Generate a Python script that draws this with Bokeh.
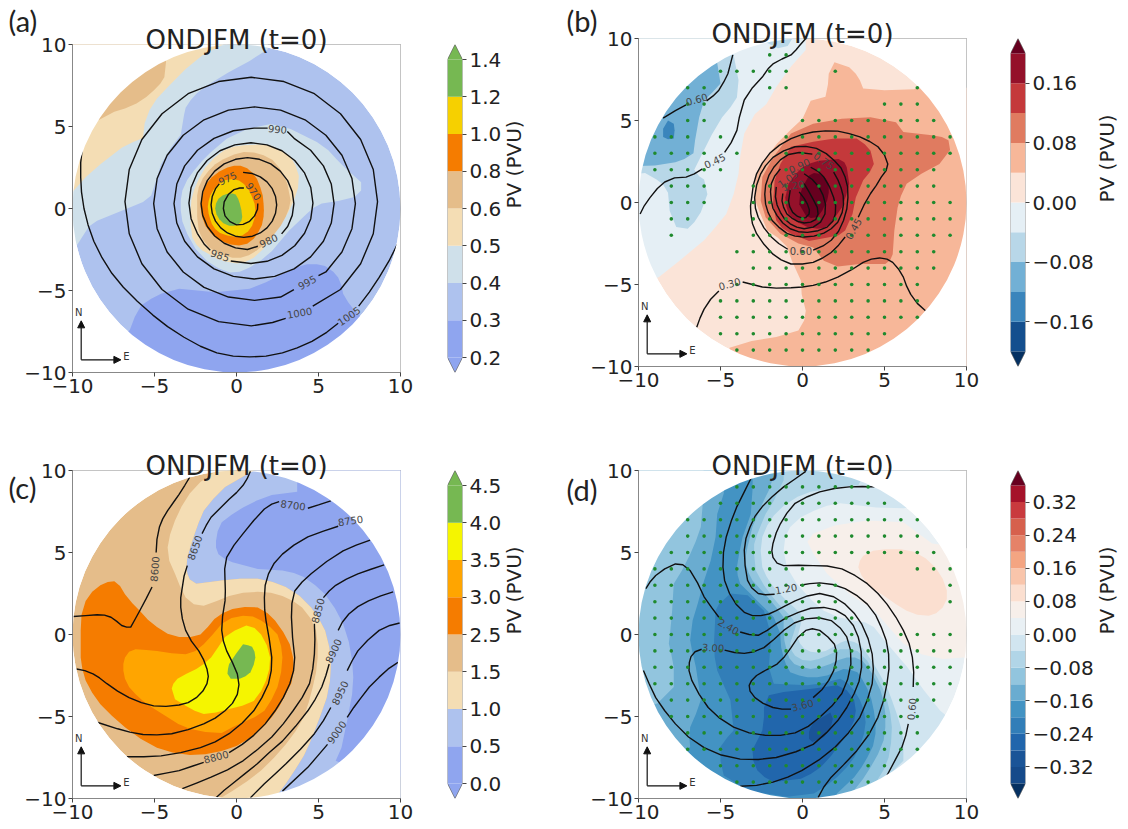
from bokeh.plotting import figure
from bokeh.layouts import row, column
from bokeh.models import Range1d, FixedTicker, Arrow, NormalHead
from bokeh.core.properties import value
from bokeh.embed import file_html
from bokeh.resources import INLINE

# ---------- shared ticks / labels ----------
xy_ticks = [-10, -5, 0, 5, 10]
xy_labels = {-10: "\u221210", -5: "\u22125", 0: "0", 5: "5", 10: "10"}
title_text = "ONDJFM (t=0)"
cb_title = "PV (PVU)"
panel_tags = ["(a)", "(b)", "(c)", "(d)"]

# ---------- panel (a) ----------
a_colors = ["#8FA5EF", "#AEC2EE", "#CFE0EA", "#F4DDB4", "#E5BD8A", "#F57C00", "#F6D000", "#76B852"]
a_tip = ["#8FA5EF", "#76B852"]
a_ticks = ["0.2", "0.3", "0.4", "0.5", "0.6", "0.8", "1.0", "1.2", "1.4"]
a_band = [(1.9,9.7),(0.8,9.0),(-0.5,8.3),(-1.8,7.5),(-2.4,7.05),(-2.8,6.6),(-3.1,6.15),(-3.2,5.7),(-3.4,4.5),(-4.0,3.7),(-4.6,2.7),(-4.9,1.7),(-5.2,0.8),(-5.7,0.4),(-6.4,0.1),(-7.9,-0.5),(-8.5,-0.75),(-9.0,-1.1),(-9.7,-2.2),(-12,-3),(-12,12),(2,12)]
a_low = [(-7.5,-8.5),(-6.5,-7.4),(-6.2,-6.6),(-5.8,-5.9),(-5.2,-5.5),(-4.6,-5.2),(-3.5,-4.9),(-2.4,-5.0),(-1.3,-5.1),(0.8,-4.9),(1.8,-4.5),(2.8,-4.0),(3.6,-3.6),(4.3,-3.4),(4.9,-3.4),(5.4,-3.5),(5.9,-3.85),(6.2,-4.2),(6.4,-4.7),(6.5,-5.2),(6.8,-5.7),(7.1,-6.1),(7.6,-6.6),(9,-12),(-9,-12)]
a_top_tan = [(-0.8,10),(-2,9.4),(-3.1,8.5),(-4.2,7.4),(-4.85,6.7),(-5.3,6),(-5.6,5.2),(-5.7,4.3),(-6.3,4.05),(-7,3.7),(-8.3,2.7),(-9.2,1.9),(-10,1),(-12,1),(-12,12),(-0.8,12)]
a_top_dark = [(-4.3,8.9),(-4.4,8),(-4.65,7.6),(-5.05,7.2),(-5.5,6.8),(-6.1,6.4),(-6.8,6.1),(-7.45,5.9),(-8.4,5.4),(-12,5),(-12,12),(-4.3,12)]
a_mid_blue = [(-3.4,-0.1),(-3.4,0.5),(-3.3,1.1),(-3,1.75),(-2.6,2.3),(-2.1,2.9),(-1.6,3.4),(-0.6,4.25),(0.65,4.85),(2.1,5.15),(3.3,4.85),(4.9,4.05),(5.6,3.55),(6.1,3.0),(6.6,2.5),(7.6,1.6),(7.6,1.1),(7.2,0.7),(6.2,0.45),(5.2,0.3),(4.7,0.05),(4.3,-0.3),(3.2,-1.35),(2.15,-2.6),(1.5,-3.15),(0.8,-3.6),(0.2,-3.85),(-0.4,-3.9),(-1.1,-3.65),(-1.8,-3.2),(-2.5,-2.45),(-3,-1.55),(-3.3,-0.8)]
a_mid_tan = [(-2.8,-0.1),(-2.75,0.5),(-2.6,1.1),(-2.3,1.8),(-1.9,2.5),(-1.35,3.1),(-0.75,3.55),(-0.15,3.78),(0.45,3.85),(1.3,3.9),(2.05,3.85),(2.75,3.55),(3.3,3.15),(3.6,2.6),(3.8,2.0),(3.75,1.25),(3.5,0.5),(3.15,-0.25),(2.7,-0.95),(2.05,-1.95),(1.6,-2.5),(1.05,-3.0),(0.55,-3.25),(0.05,-3.35),(-0.6,-3.25),(-1.2,-3.05),(-2.1,-2.55),(-2.45,-2.2),(-2.7,-1.75),(-2.8,-0.9)]
a_mid_dark = [(-2.4,0.3),(-2.4,0.8),(-2.3,1.3),(-2.05,1.85),(-1.7,2.3),(-1.3,2.7),(-0.8,3.0),(-0.15,3.3),(0.45,3.45),(1.05,3.42),(1.65,3.25),(2.2,2.95),(2.6,2.5),(2.9,2.0),(3.1,1.5),(3.3,0.5),(3.2,0),(3.0,-0.5),(2.7,-1.05),(2.3,-1.55),(1.8,-2.1),(1.25,-2.55),(0.75,-2.85),(0.25,-3.0),(-0.25,-3),(-0.75,-2.85),(-1.25,-2.65),(-1.7,-2.35),(-2.05,-1.9),(-2.3,-1.35),(-2.4,-0.5)]
a_orange = [(-2.2,0.1),(-2.15,0.6),(-2.0,1.1),(-1.8,1.55),(-1.5,1.9),(-1.05,2.25),(-0.55,2.5),(-0.15,2.6),(0.25,2.6),(0.65,2.45),(0.95,2.2),(1.25,1.8),(1.45,1.3),(1.6,0.8),(1.65,0.3),(1.67,-0.1),(1.65,-0.5),(1.55,-1),(1.35,-1.4),(1.05,-1.85),(0.65,-2.15),(0.15,-2.25),(-0.35,-2.2),(-0.8,-2.05),(-1.2,-1.85),(-1.6,-1.45),(-1.9,-1.05),(-2.1,-0.5)]
a_yellow = [(-1.75,0.1),(-1.7,0.45),(-1.6,0.8),(-1.4,1.15),(-1.1,1.5),(-0.7,1.72),(-0.25,1.8),(0.15,1.7),(0.45,1.5),(0.75,1.15),(0.95,0.7),(1.1,0.3),(1.15,-0.1),(1.1,-0.6),(0.95,-1.05),(0.7,-1.4),(0.35,-1.65),(-0.1,-1.72),(-0.55,-1.65),(-1,-1.5),(-1.3,-1.25),(-1.5,-0.95),(-1.6,-0.65),(-1.7,-0.3)]
a_green = [(-1.3,0),(-1.25,0.3),(-1.1,0.6),(-0.85,0.8),(-0.55,0.9),(-0.25,0.92),(-0.05,0.85),(0.1,0.6),(0.2,0.3),(0.3,-0.1),(0.35,-0.5),(0.3,-0.75),(0.15,-0.95),(-0.15,-1.05),(-0.45,-1.05),(-0.8,-0.9),(-1.05,-0.65),(-1.22,-0.35)]
a_fills = [(a_band,a_colors[2]),(a_low,a_colors[0]),(a_top_tan,a_colors[3]),(a_top_dark,a_colors[4]),(a_mid_blue,a_colors[2]),(a_mid_tan,a_colors[3]),(a_mid_dark,a_colors[4]),(a_orange,a_colors[5]),(a_yellow,a_colors[6]),(a_green,a_colors[7])]
a_c970 = [(1.3,.3),(1.28,-.05),(1.1,-.45),(.8,-.78),(.4,-.97),(0,-1.0),(-.4,-.8),(-.7,-.45),(-.8,0),(-.75,.4),(-.5,.85),(-.15,1.15),(.2,1.25),(.45,1.25)]
a_c975 = [(.4,2.2),(.97,2.13),(1.45,1.93),(1.86,1.62),(2.18,1.21),(2.38,.73),(2.45,.22),(2.38,-.29),(2.18,-.77),(1.86,-1.18),(1.45,-1.49),(.97,-1.69),(.45,-1.76),(-.07,-1.69),(-.55,-1.49),(-.96,-1.18),(-1.28,-.77),(-1.48,-.29),(-1.55,.22),(-1.48,.73),(-1.28,1.21),(-1.05,1.5)]
a_c980 = [(1.3,-2.3),(.67,-2.5),(-.06,-2.4),(-.75,-2.12),(-1.33,-1.68),(-1.78,-1.1),(-2.06,-.42),(-2.16,.3),(-2.06,1.02),(-1.78,1.7),(-1.33,2.28),(-.75,2.72),(-.06,3.0),(.67,3.1),(1.4,3.0),(2.09,2.72),(2.67,2.28),(3.12,1.7),(3.4,1.02),(3.5,.3),(3.4,-.42),(3.12,-1.1),(2.75,-1.55)]
a_c985 = [(-.35,-3.2),(.88,-3.35),(1.86,-3.22),(2.77,-2.86),(3.55,-2.27),(4.15,-1.51),(4.53,-.62),(4.66,.33),(4.53,1.28),(4.15,2.17),(3.55,2.93),(2.77,3.52),(1.86,3.88),(.88,4.01),(-.1,3.88),(-1.01,3.52),(-1.79,2.93),(-2.39,2.17),(-2.77,1.28),(-2.9,.33),(-2.77,-.62),(-2.39,-1.51),(-1.95,-2.2),(-1.6,-2.55)]
a_c990 = [(3.1,4.7),(3.51,4.28),(4.52,3.55),(5.3,2.6),(5.78,1.49),(5.95,.3),(5.78,-.89),(5.3,-2.0),(4.52,-2.95),(3.51,-3.68),(2.33,-4.14),(1.07,-4.3),(-.19,-4.14),(-1.37,-3.68),(-2.38,-2.95),(-3.16,-2),(-3.64,-.89),(-3.81,.3),(-3.64,1.49),(-3.16,2.6),(-2.38,3.55),(-1.37,4.28),(-.19,4.74),(1.07,4.9),(1.9,4.9)]
a_c995 = [(5.0,-4.1),(5.45,-3.87),(6.43,-2.65),(7.04,-1.23),(7.25,.3),(7.04,1.83),(6.43,3.25),(5.45,4.47),(4.18,5.41),(2.69,6.0),(1.1,6.2),(-.49,6.0),(-1.98,5.41),(-3.25,4.47),(-4.23,3.25),(-4.84,1.83),(-5.05,.3),(-4.84,-1.23),(-4.23,-2.65),(-3.25,-3.87),(-1.98,-4.81),(-.49,-5.4),(1.1,-5.6),(2.69,-5.4),(3.5,-4.95)]
a_c1000 = [(4.65,-5.95),(6.34,-4.94),(7.57,-3.37),(8.34,-1.54),(8.6,.42),(8.34,2.38),(7.57,4.21),(6.34,5.78),(4.75,7.0),(2.89,7.74),(.9,8.0),(-1.09,7.74),(-2.95,7.0),(-4.54,5.78),(-5.77,4.21),(-6.54,2.38),(-6.8,.42),(-6.54,-1.54),(-5.77,-3.37),(-4.54,-4.94),(-2.95,-6.14),(-1.09,-6.9),(.9,-7.16),(2.2,-6.95),(3.0,-6.7)]
a_c1005a = [(7.45,-5.95),(8.1,-5.1),(8.7,-4.2),(9.3,-3.2),(9.8,-2.2)]
a_c1005b = [(-9.4,3.7),(-9.5,2.8),(-9.5,1.9),(-9.45,1.0),(-9.3,0),(-9.05,-1.0),(-8.7,-2.0),(-8.2,-3.0),(-7.6,-3.95),(-6.9,-4.8),(-6.05,-5.65),(-5.1,-6.5),(-4.2,-7.2),(-3.2,-7.85),(-2.2,-8.4),(-1.2,-8.8),(-.2,-9.0),(.8,-9.05),(1.8,-9.0),(2.8,-8.8),(3.7,-8.5),(4.6,-8.1),(5.5,-7.55),(6.2,-7.0)]
a_lines = [a_c970,a_c975,a_c980,a_c985,a_c990,a_c995,a_c1000,a_c1005a,a_c1005b]
a_labels = [("990",2.5,4.85,-5),("970",1.05,1.05,-55),("975",-0.55,1.85,25),("980",1.95,-1.95,25),("985",-1.0,-2.85,-18),("995",4.3,-4.5,28),("1000",3.85,-6.35,10),("1005",6.85,-6.55,35)]

# ---------- panel (b) ----------
b_colors = ["#144F8E","#3A85BC","#72B0D5","#B8D7E8","#E5EFF5","#FBE4D8","#F7B799","#E07B60","#C4393B","#94112A"]
b_tip = ["#053061","#67001F"]
b_ticks = ["", "\u22120.16", "", "\u22120.08", "", "0.00", "", "0.08", "", "0.16", ""]
b_n0 = [(0.2,9.9),(0.2,9.3),(-0.7,8.3),(-1.6,7.05),(-2.2,6.0),(-2.9,5.4),(-3.55,4.2),(-3.8,2.8),(-3.9,1.75),(-4.2,0.5),(-4.65,-0.7),(-5.3,-1.5),(-6.0,-2.3),(-7.5,-3.55),(-8.75,-4.55),(-12,-6),(-12,12),(0.4,12)]
b_n1 = [(-4.2,9.0),(-3.9,7.45),(-4.0,6.4),(-4.4,5.8),(-4.9,5.2),(-5.55,4.1),(-6.1,3.0),(-6.6,2.0),(-6.3,1.6),(-6.0,1.4),(-5.8,0.5),(-6.2,-0.6),(-6.6,-1.2),(-7.0,-1.6),(-7.7,-1.5),(-8.1,-0.5),(-8.2,0.6),(-8.5,1.1),(-8.9,1.4),(-9.6,1.8),(-12,1.5),(-12,10),(-4.2,10.5)]
b_n1_top = [(-2.2,10.2),(-2.2,9.75),(-1.5,9.4),(-0.9,9.55),(-0.5,10.2)]
b_n2 = [(-5.2,8.5),(-5,7.25),(-5.5,6.7),(-6,6.2),(-6.3,5.2),(-6.55,3.8),(-6.65,3.0),(-7.2,2.65),(-7.75,2.45),(-9,2.25),(-12,2.2),(-12,8),(-5.5,10)]
b_n3 = [(-8.5,4),(-8.2,3.85),(-7.85,3.9),(-7.8,4.4),(-7.85,4.8),(-8.2,5.0),(-8.5,4.5)]
b_p1 = [(1.95,8.55),(2.85,8.25),(3.25,7.85),(3.5,7.45),(3.7,6.95),(5,6.85),(6.8,6.9),(9,8),(12,5),(12,-12),(-4,-12),(-4.45,-8.85),(-3.1,-8.45),(-1.6,-8.2),(-0.25,-7.8),(0.1,-7.2),(0.2,-6.6),(-0.05,-5.6),(-0.1,-4.75),(-0.65,-3.55),(-0.95,-2.7),(-1.5,-2.15),(-2.15,-1.7),(-2.65,-0.5),(-2.95,0.3),(-2.85,1.55),(-2.35,2.55),(-1.55,3.6),(-0.75,4.4),(0,5.1),(0.5,6.2),(1.4,6.45),(1.55,7.2),(1.6,7.85)]
b_p2 = [(0.65,4.8),(2.4,5.1),(4.15,5.2),(5.7,4.9),(6.15,4.3),(7.9,4.1),(8.5,4),(8.9,3.8),(9.0,3.2),(8.35,2.35),(7.25,1.75),(6.35,1.15),(6,0.4),(5.8,-0.3),(5.6,-1.7),(5.5,-3.15),(5.35,-3.5),(5.05,-3.75),(3.5,-3.75),(2.15,-3.9),(1.3,-3.55),(0.65,-2.75),(-0.25,-2.5),(-1.35,-1.9),(-2.25,-0.9),(-2.55,0.1),(-2.45,1.55),(-1.8,2.75),(-0.7,4.2)]
b_p3 = [(-0.7,3.4),(0.65,3.7),(1.95,3.9),(3.3,3.9),(3.8,3.55),(4.15,3.15),(4.35,2.35),(4.1,1.85),(3.7,1.35),(3.25,0.3),(3.05,-0.7),(2.6,-1.7),(2.2,-2),(1.7,-2.1),(0.4,-2.35),(-0.7,-1.9),(-1.25,-1.55),(-1.6,-1.1),(-1.8,-0.1),(-1.7,1.35),(-1.35,2.35)]
b_p4 = [(-1.05,0.3),(-0.85,1.15),(-0.45,1.7),(0,2.15),(0.5,2.4),(1,2.55),(2.2,2.65),(2.55,2.45),(2.7,2.15),(2.85,1.15),(2.65,0.4),(2.4,-0.3),(1.7,-1.3),(1.3,-1.55),(0.9,-1.6),(0.3,-1.5),(-0.3,-1.2),(-0.85,-0.7),(-1,-0.2)]
b_p5 = [(-0.2,-0.1),(-0.15,0.45),(0,0.95),(0.4,1.65),(0.7,1.8),(1,1.75),(1.4,1.5),(1.6,1.15),(1.6,0.6),(1.5,0.1),(1.2,-0.5),(0.9,-0.9),(0.5,-0.95),(0.2,-0.8)]
b_fills = [(b_n0,b_colors[4]),(b_n1,b_colors[3]),(b_n1_top,b_colors[3]),(b_n2,b_colors[2]),(b_n3,b_colors[1]),(b_p1,b_colors[6]),(b_p2,b_colors[7]),(b_p3,b_colors[8]),(b_p4,b_colors[9]),(b_p5,b_tip[1])]
b_c30a = [(-6.45,-7.6),(-6.25,-7.05),(-6,-6.5),(-5.6,-5.9),(-5.1,-5.4)]
b_c30b = [(-3.65,-4.85),(-3.05,-5),(-2.45,-5.15),(-1.6,-5.22),(-.7,-5.2),(0,-5.15),(.65,-5.05),(1.4,-4.85),(2.15,-4.55),(3,-4.1),(3.7,-3.65),(4.2,-3.45),(4.7,-3.38),(5.15,-3.45),(5.5,-3.65),(5.85,-4.05),(6.15,-4.55),(6.35,-5.1),(6.6,-5.6),(7,-6.15),(7.5,-6.6)]
b_c45a = [(-9.9,-.7),(-9.65,-.2),(-9.3,.3),(-8.85,.85),(-8.4,1.25),(-7.8,1.5),(-7.1,1.55),(-6.6,1.75),(-6.1,2.05)]
b_c45b = [(-4.75,3.05),(-4.35,3.65),(-4,4.4),(-3.85,5.2),(-3.55,6.25),(-3.05,7),(-2.45,7.65),(-2.1,8.15),(-1.8,8.45),(-1.25,8.75),(-.7,9),(-.4,9.3),(-.15,9.6),(.2,10)]
b_c60a = [(-8.5,5.15),(-7.75,5.6),(-7.1,5.95)]
b_c60b = [(-5.85,6.2),(-5.45,6.5),(-5.1,6.85),(-4.8,7.35),(-4.55,7.85),(-4.25,9)]
b_c45c = [(2.6,-2.1),(2.2,-2.6),(1.75,-3.05),(1.2,-3.4),(.65,-3.65),(0,-3.75),(-.7,-3.75),(-1.3,-3.5),(-1.8,-3.15),(-2.35,-2.55),(-2.8,-1.9),(-3.05,-1.3),(-3.15,-.7),(-3.17,-.2),(-3.1,.3),(-3,1.05),(-2.8,1.75),(-2.45,2.4),(-2,3),(-1.4,3.5),(-.7,3.9),(0,4.15),(.65,4.3),(1.4,4.37),(2.15,4.35),(2.85,4.2),(3.5,4),(4.1,3.72),(4.6,3.4),(5,2.9),(5.2,2.35),(5.1,1.95),(4.8,1.55),(4.5,1.05),(4.15,.55),(3.75,-.15),(3.4,-.9)]
b_c60c = [(0.65,-2.9),(1.25,-2.65),(1.75,-2.3),(2.2,-1.75),(2.5,-1.1),(2.7,-.4),(2.77,.3),(2.75,.95),(2.6,1.55),(2.35,2.1),(1.95,2.55),(1.45,2.98),(.85,3.3),(.2,3.42),(-.45,3.4),(-1.15,3.15),(-1.8,2.75),(-2.25,2.25),(-2.55,1.75),(-2.8,1.05),(-2.92,.3),(-2.87,-.35),(-2.7,-.9),(-2.35,-1.55),(-1.9,-2.1),(-1.45,-2.5),(-.9,-2.85)]
b_c75 = [(1.9,1.85),(2.15,1.4),(2.35,.9),(2.48,.4),(2.5,-.1),(2.42,-.6),(2.15,-1.2),(1.75,-1.6),(1.3,-1.87),(.7,-2.05),(.1,-2.1),(-.45,-2.05),(-.95,-1.88),(-1.45,-1.5),(-1.85,-1.1),(-2.1,-.6),(-2.25,-.1),(-2.3,.5),(-2.25,1.05),(-2.05,1.65),(-1.75,2.15),(-1.35,2.6),(-.85,2.93),(-.2,3.05),(.6,2.95)]
b_c90 = [(.5,2.15),(.95,1.9),(1.3,1.55),(1.65,.95),(1.9,.3),(2.02,-.2),(2,-.7),(1.85,-1.15),(1.5,-1.5),(.95,-1.72),(.3,-1.82),(-.25,-1.78),(-.75,-1.6),(-1.2,-1.25),(-1.55,-.8),(-1.8,-.35),(-1.9,.1),(-1.95,.65),(-1.9,1.15),(-1.7,1.6),(-1.35,2.05)]
b_c105 = [(.1,1.75),(.6,1.4),(1,.95),(1.25,.45),(1.4,-.1),(1.37,-.7),(1.1,-1.2),(.65,-1.5),(.1,-1.6),(-.35,-1.5),(-.75,-1.3),(-1.1,-1),(-1.35,-.6),(-1.55,-.15),(-1.65,.35),(-1.6,.95)]
b_c120 = [(.1,1.15),(.4,.65),(.7,.1),(.9,-.3),(.95,-.7),(.8,-1.05),(.5,-1.2),(.1,-1.25),(-.3,-1.15),(-.65,-.95),(-.95,-.7),(-1.15,-.3),(-1.25,.1),(-1.2,.55)]
b_c135 = [(-.2,.65),(.1,.25),(.3,-.1),(.42,-.45),(.4,-.7),(.2,-.92),(0,-.95),(-.3,-.85),(-.6,-.6),(-.78,-.25),(-.85,.1),(-.75,.75)]
b_lines = [b_c30a,b_c30b,b_c45a,b_c45b,b_c60a,b_c60b,b_c45c,b_c60c,b_c75,b_c90,b_c105,b_c120,b_c135]
b_labels = [("0.60",-6.45,6.3,15),("0.45",-5.35,2.55,25),("0.75",1.3,2.55,-35),("0.90",-0.2,2.25,25),("1.05",-0.9,1.45,35),("1.20",-0.55,1.05,10),("0.60",-0.1,-2.95,0),("0.45",3.1,-1.6,60),("0.30",-4.45,-4.95,15)]
b_dots = [(9,-2,-1),(8,-5,-1),(8,2,2),(7,-7,-6),(7,-2,-1),(7,7,7),(6,-7,-6),(6,5,7),(5,-7,-6),(5,0,8),(4,-9,-7),(4,-5,-5),(4,-1,9),(3,-9,-6),(3,-4,-4),(3,-1,9),(2,-9,-5),(2,-1,8),(1,-8,-6),(1,-3,8),(0,-8,-6),(0,-3,9),(-1,-8,-7),(-1,-3,9),(-2,-8,-8),(-2,-3,9),(-3,-4,8),(-4,-3,8),(-5,-4,7),(-6,-5,7),(-7,-5,7),(-8,-5,5),(-9,-4,4)]

# ---------- panel (c) ----------
c_colors = ["#8FA5EF","#AEC2EE","#F4DDB4","#E5BD8A","#F57C00","#FFA500","#F5F500","#76B852"]
c_tip = ["#8FA5EF","#76B852"]
c_ticks = ["0.0","0.5","1.0","1.5","2.5","3.0","3.5","4.0","4.5"]
c_left_edge = [(-1.35,10.5),(-1.35,9.9),(-2.2,9.3),(-2.85,8.6),(-3.35,7.8),(-3.75,6.95),(-4.05,6.1),(-4.2,5.3),(-4.1,4.5),(-3.75,3.7),(-3.45,2.95),(-3.1,2.25),(-2.6,1.85),(-2,1.75),(-1.2,2.05),(-0.45,2.35),(0.4,2.55),(1.3,2.6),(2.1,2.55),(2.8,2.35),(3.45,2.05),(4,1.65),(4.5,1),(4.85,0.25),(4.95,-0.6),(4.95,-1.4),(4.85,-2.3),(4.65,-3.2),(4.4,-4.15),(4.1,-5.05),(3.6,-5.9),(3,-6.7),(2.3,-7.5),(1.5,-8.3),(0.65,-8.95),(-0.25,-9.55),(-1.35,-10.2)]
c_right_edge = [(2.15,-10.2),(3,-9.1),(3.6,-8.2),(4.1,-7.4),(4.45,-6.65),(4.75,-5.9),(5.15,-4.85),(5.5,-3.85),(5.7,-2.8),(5.75,-1.8),(5.65,-0.75),(5.4,0.25),(5,1),(4.55,1.65),(3.85,2.35),(3,2.9),(2.2,3.2),(1.3,3.4),(0.2,3.4),(-0.9,3.3),(-2.45,3.1),(-2.85,3.35),(-3,3.7),(-3.05,4.2),(-3,4.7),(-2.8,5.4),(-2.55,6.15),(-2.3,6.85),(-2,7.55),(-1.4,8.3),(-0.7,9),(0.85,9.9),(1.5,10.2)]
c_blue = c_right_edge + [(1.5,12),(12,12),(12,-12),(2.15,-12)]
c_tan = c_left_edge + c_right_edge
c_deep = [(3.7,8.7),(2.15,8.5),(1.2,8.15),(0.4,7.75),(-0.3,7.3),(-0.9,6.85),(-1.15,6.3),(-1.25,5.7),(-1.25,5.3),(-1.1,4.9),(-0.7,4.6),(-0.25,4.4),(0.5,4.2),(1.3,4),(2.8,3.9),(3.5,3.75),(4.1,3.5),(4.8,3),(5.4,2.45),(6,1.6),(6.5,0.65),(6.85,-0.45),(7.05,-1.6),(7.12,-2.6),(7.05,-3.65),(6.75,-5.25),(6.4,-6.9),(6.05,-7.7),(9,-9),(12,-8),(12,12),(3.7,12)]
c_or1 = [(-9.5,0.25),(-9.45,1.2),(-9.2,2.05),(-8.8,2.6),(-8.3,3),(-7.85,3.2),(-7.45,3.25),(-7.1,2.95),(-6.8,2.45),(-6.35,1.9),(-5.9,1.45),(-5.4,0.9),(-4.85,0.45),(-4.2,0.05),(-3.5,-0.15),(-2.8,-0.15),(-2.2,0),(-1.75,0.45),(-1.35,0.95),(-0.85,1.3),(-0.25,1.55),(0.5,1.68),(1.3,1.65),(1.9,1.3),(2.35,0.85),(2.85,0.15),(3.25,-0.6),(3.45,-1.4),(3.5,-2.2),(3.35,-2.95),(3,-3.65),(2.6,-4.4),(2.15,-5.05),(1.55,-5.7),(0.85,-6.3),(0,-6.8),(-0.9,-7.1),(-1.9,-7.3),(-2.85,-7.35),(-3.9,-7.2),(-4.85,-6.9),(-5.85,-6.35),(-6.8,-5.65),(-7.6,-4.95),(-8.3,-4.25),(-8.8,-3.55),(-9.2,-2.8),(-9.4,-2.1),(-9.5,-1.4)]
c_or2 = [(-6.9,-2.2),(-6.9,-1.8),(-6.8,-1.4),(-6.55,-1.05),(-6.15,-0.9),(-5.5,-0.95),(-4.85,-1),(-3.95,-1.15),(-3.1,-1.2),(-2.5,-1),(-2,-0.6),(-1.45,0),(-0.9,0.65),(-0.3,1),(0.4,1.15),(1,1.1),(1.5,0.85),(2.05,0.45),(2.5,0),(2.72,-0.7),(2.8,-1.4),(2.72,-2.3),(2.5,-3.2),(2.15,-3.95),(1.7,-4.65),(1.1,-5.05),(0.4,-5.35),(-0.25,-5.65),(-0.9,-6),(-1.9,-5.95),(-2.85,-5.75),(-3.55,-5.45),(-4.2,-5.05),(-5,-4.55),(-5.7,-4.05),(-6.15,-3.65),(-6.55,-3.2),(-6.8,-2.7)]
c_yel = [(-3.95,-3.3),(-3.85,-3),(-3.6,-2.7),(-3.05,-2.4),(-2.45,-2.1),(-2,-1.8),(-1.55,-1.4),(-1.1,-0.75),(-0.7,-0.15),(-0.1,0.25),(0.6,0.55),(1.1,0.4),(1.5,0),(1.85,-0.65),(2.05,-1.4),(2,-2.1),(1.8,-2.8),(1.5,-3.45),(1.05,-4.05),(0.35,-4.35),(-0.45,-4.55),(-1.25,-4.75),(-2,-4.85),(-2.55,-4.65),(-3.1,-4.35),(-3.75,-3.95)]
c_grn = [(-0.55,-2.4),(-0.52,-2.1),(-0.45,-1.8),(-0.05,-1.2),(0.4,-0.6),(0.7,-0.65),(0.95,-0.75),(1.1,-1.05),(1.15,-1.4),(1.05,-1.85),(0.85,-2.3),(0.55,-2.55),(0.2,-2.7),(-0.35,-2.7)]
c_fills = [(c_blue,c_colors[1]),(c_tan,c_colors[2]),(c_deep,c_colors[0]),(c_or1,c_colors[4]),(c_or2,c_colors[5]),(c_yel,c_colors[6]),(c_grn,c_colors[7])]
c_8600a = [(-9.95,1.1),(-9.2,1.15),(-8.5,1.2),(-8.05,1.18),(-7.65,1.05),(-7.3,.8),(-7,.55),(-6.7,.45),(-6.45,.45),(-6.2,.9),(-5.9,1.45),(-5.5,2.2),(-5.15,2.9)]
c_8600b = [(-4.9,5),(-4.85,5.8),(-4.7,6.55),(-4.5,7.05),(-4.2,7.55),(-3.85,8.05),(-3.5,8.55),(-3.15,9.1),(-2.85,9.6)]
c_8650a = [(.85,9.95),(.65,9.5),(.4,9.1),(0,8.65),(-.45,8.25),(-1,7.7),(-1.55,7.15),(-1.85,6.65),(-2.1,6.15)]
c_8650b = [(-3,4.2),(-3.2,3.55),(-3.3,2.9),(-3.4,2.25),(-3.4,1.65),(-3.3,.95),(-3.1,.25),(-2.75,-.4),(-2.3,-1),(-2,-1.55),(-1.8,-2.1),(-1.72,-2.55),(-1.8,-3),(-2.05,-3.45),(-2.45,-3.85),(-2.95,-4.15),(-3.5,-4.3),(-4.3,-4.38),(-5.05,-4.35),(-5.8,-4.15),(-6.55,-3.85),(-7.25,-3.45),(-7.9,-3),(-8.35,-2.65),(-8.75,-2.4),(-9.25,-2.2),(-9.75,-2.1)]
c_8700a = [(5.75,8.15),(5,7.9),(4.35,7.7)]
c_8700b = [(2.6,8.1),(2.15,7.95),(1.7,7.65),(1.05,6.95),(.4,6.15),(-.15,5.45),(-.6,4.7),(-.72,4),(-.7,3.3),(-.68,2.65),(-.7,2.05),(-.85,1.1),(-.9,.25),(-.8,-.4),(-.6,-1),(-.25,-1.7),(.05,-2.4),(.15,-3.05),(.05,-3.65),(-.25,-4.2),(-.7,-4.65),(-1.3,-5.1),(-2,-5.45),(-2.95,-5.8),(-3.95,-6.05),(-4.85,-6.12),(-5.7,-6.1),(-6.5,-5.95),(-7.25,-5.75),(-8.5,-5.35)]
c_8750 = [(6.2,6.6),(5.3,6.3),(4.35,5.95),(3.5,5.45),(2.8,4.9),(2.3,4.35),(1.95,3.7),(1.75,3),(1.7,2.25),(1.72,1.5),(1.8,.85),(2,-.3),(2.15,-1.4),(2.12,-2.2),(1.95,-3),(1.55,-3.85),(1.05,-4.65),(.35,-5.4),(-.45,-6.05),(-1.3,-6.55),(-2.2,-6.9),(-3.4,-7.2),(-4.6,-7.4),(-5.65,-7.45),(-6.7,-7.45)]
c_8800a = [(8.15,5.75),(7.3,5.45),(6.5,5.1),(5.5,4.45),(4.55,3.7),(4,3.2),(3.55,2.65),(3.38,1.9),(3.35,1.05),(3.42,-.2),(3.55,-1.4),(3.48,-2.2),(3.25,-3),(2.85,-3.85),(2.35,-4.65),(1.75,-5.45),(1.05,-6.15),(.35,-6.7),(-.45,-7.2)]
c_8800b = [(-2,-7.8),(-2.75,-8.05),(-3.5,-8.3),(-4.3,-8.45),(-5.05,-8.6)]
c_8850a = [(9,4.25),(8.2,3.98),(7.4,3.7),(6.7,3.38),(6.05,3),(5.65,2.65),(5.3,2.25)]
c_8850b = [(4.75,.65),(4.78,-.3),(4.75,-1.2),(4.65,-2.1),(4.45,-3),(4,-3.85),(3.45,-4.65),(2.85,-5.45),(2.15,-6.25),(1.3,-7),(.4,-7.7),(-.55,-8.25),(-1.55,-8.7),(-2.4,-9.05),(-3.3,-9.4)]
c_8900a = [(9.55,2.6),(8.8,2.35),(8.05,2.05),(7.4,1.7),(6.85,1.25),(6.45,.75),(6.2,.25)]
c_8900b = [(5.65,-1.8),(5.45,-2.5),(5.2,-3.2),(4.8,-3.95),(4.35,-4.65),(3.6,-5.6),(2.8,-6.5),(2,-7.2),(1.25,-7.9),(.5,-8.5),(-.25,-9.1),(-.75,-9.5),(-1.25,-9.95)]
c_8950a = [(9.95,.7),(9.35,.55),(8.7,.25),(8,-.35),(7.4,-1),(7.05,-1.6),(6.75,-2.2)]
c_8950b = [(5.75,-4.45),(5.3,-5.25),(4.75,-6.05),(3.9,-7),(3,-7.9),(2.35,-8.5),(1.7,-9.1),(.85,-9.95)]
c_9000a = [(9.85,-1.7),(9.25,-2.1),(8.7,-2.6),(8.1,-3.2),(7.6,-3.85),(7.15,-4.45),(6.75,-5.05)]
c_9000b = [(5.55,-6.7),(4.95,-7.4),(4.35,-8.1),(2.8,-9.55)]
c_lines = [c_8600a,c_8600b,c_8650a,c_8650b,c_8700a,c_8700b,c_8750,c_8800a,c_8800b,c_8850a,c_8850b,c_8900a,c_8900b,c_8950a,c_8950b,c_9000a,c_9000b]
c_labels = [("8600",-5,4,85),("8650",-2.55,5.3,70),("8700",3.45,7.9,-8),("8750",6.95,6.95,8),("8800",-1.25,-7.45,15),("8850",4.95,1.45,75),("8900",5.9,-1,65),("8950",6.3,-3.55,65),("9000",6.1,-5.95,55)]

# ---------- panel (d) ----------
d_colors = ["#154A8A","#1A5497","#2166AC","#327EB8","#4393C3","#6AACD0","#92C5DE","#B1D5E7","#D1E5F0","#E9F0F4","#F7EFEA","#FBDFD0","#F9C5AB","#F4A582","#E58268","#D6604D","#C93A3E","#A5122A"]
d_tip = ["#053061","#67001F"]
d_ticks = ["","\u22120.32","","\u22120.24","","\u22120.16","","\u22120.08","","0.00","","0.08","","0.16","","0.24","","0.32",""]
d_p0 = [(0.65,6.15),(1.95,6.65),(3.95,6.95),(6.15,6.85),(7.9,5.55),(12,5),(12,-2),(9.8,-1.4),(8.55,-1.5),(7.25,-1.2),(6.15,-0.55),(5.25,0.45),(4.4,1.45),(2.85,2.5),(1.5,3.7),(0.65,4.95),(0.3,5.65)]
d_p1 = [(3.4,4.1),(3.5,4.5),(3.7,4.8),(4.3,5.1),(5.05,5.2),(6,5.2),(6.8,5.05),(7.5,4.65),(8.1,4.1),(8.55,3.4),(8.8,2.7),(8.8,2.15),(8.55,1.65),(8.15,1.3),(7.7,1.15),(7,1.2),(6.35,1.45),(5.7,1.85),(5.05,2.3),(4.45,2.7),(3.95,3.1),(3.6,3.6)]
d_m1 = [(9,12),(9,8),(6.15,7.7),(4.5,7.75),(2.3,8),(1.5,7.85),(.7,7.55),(-.1,7.15),(-.75,6.55),(-1.05,5.95),(-1.15,5.1),(-.95,4.1),(-.35,3.1),(.5,2.15),(1.3,1.45),(2.2,1.05),(3.1,.85),(3.8,.75),(4.35,.45),(4.95,-.3),(5.55,-1),(6.4,-2),(7.4,-3.4),(8.4,-4.65),(9.4,-5.45),(12,-7),(12,-12),(-12,-12),(-12,12)]
d_m2 = [(5,12),(3.4,9.1),(2.3,9),(.5,8.7),(-.3,8.4),(-1.15,7.85),(-1.75,7.25),(-2.15,6.65),(-2.45,5.95),(-2.55,5.1),(-2.45,4.1),(-2.2,3.55),(-1.85,3),(-1.4,2.5),(-.95,2.05),(-.5,1.65),(-.1,1.25),(-.1,.65),(-.3,-.15),(-.15,-.55),(.1,-.85),(.5,-1.05),(.9,-1.1),(1.4,-1),(1.9,-.75),(2.3,-.5),(2.7,-.35),(3.15,-.45),(3.55,-.65),(3.95,-1.2),(4.35,-1.8),(4.75,-2.5),(5.15,-3.2),(5.45,-4),(5.75,-4.85),(6,-5.65),(6.15,-6.45),(6.15,-7.1),(6.15,-7.7),(5.55,-8.3),(6,-12),(-12,-12),(-12,12)]
d_m3 = [(-1.15,11),(-1.15,9.4),(-1.45,8.8),(-1.75,8.15),(-2.25,7.35),(-2.5,6.75),(-2.75,6.15),(-2.95,5.5),(-2.95,4.9),(-2.85,3.9),(-2.35,3),(-1.9,2.4),(-1.45,1.85),(-1,1.4),(-.6,.95),(-.4,.55),(-.55,.05),(-.75,-.55),(-.65,-1),(-.45,-1.3),(0,-1.55),(.5,-1.6),(1,-1.5),(1.5,-1.3),(1.9,-1.1),(2.3,-.9),(2.85,-.9),(3.35,-1),(3.95,-1.6),(4.25,-2.1),(4.55,-2.6),(4.9,-3.3),(5.15,-4),(5.35,-4.8),(5.45,-5.65),(5.4,-6.6),(5.25,-7.5),(4.95,-8.25),(4.55,-8.9),(4.15,-9.6),(4.5,-12),(-12,-12),(-12,12),(-1.15,12)]
d_m4 = [(-6,11),(-6.1,7.75),(-6.2,6.55),(-6.5,5.7),(-6.85,4.9),(-7.35,3.9),(-7.85,3.1),(-7.95,1.45),(-8.05,.35),(-8.15,-.55),(-8,-1.2),(-7.85,-2),(-7.85,-3.2),(-8.85,-4.2),(-12,-5),(-12,-12),(4,-12),(3.15,-9.5),(3.7,-8.8),(4.15,-8.1),(4.6,-7.3),(4.95,-6.45),(5.05,-5.65),(5.05,-4.85),(4.95,-4.1),(4.75,-3.4),(4.5,-2.9),(4.25,-2.4),(3.95,-1.95),(3.65,-1.6),(3.2,-1.4),(2.7,-1.4),(2.2,-1.55),(1.7,-1.8),(1.1,-2),(.5,-2.1),(0,-2),(-.5,-1.8),(-.8,-1.45),(-.95,-1),(-1.1,-.4),(-1.15,.25),(-1.15,1.05),(-1.6,1.65),(-2.05,2.2),(-2.55,2.75),(-3.05,3.3),(-3.3,3.8),(-3.45,4.3),(-3.45,4.8),(-3.35,5.35),(-3.2,5.95),(-3.05,6.55),(-2.8,7.15),(-2.55,7.75),(-2.3,8.3),(-2.05,8.8),(-1.75,9.7),(-1.75,11)]
d_m5 = [(-4.6,11),(-4.8,8.6),(-5.2,7.35),(-5.3,5.95),(-5.6,4.5),(-6,3.3),(-6.4,1.85),(-6.7,.85),(-6.85,-.35),(-6.75,-.9),(-6.5,-2),(-6.35,-3),(-6.2,-4),(-6.5,-4.85),(-6.85,-5.65),(-6.9,-6.3),(-6.85,-6.85),(-8,-8),(-8,-12),(2,-12),(2.1,-9.7),(3.15,-8.7),(3.6,-8.1),(3.95,-7.5),(4.3,-6.8),(4.45,-6.05),(4.45,-5.35),(4.35,-4.65),(4.2,-3.95),(3.95,-3.3),(3.65,-2.75),(3.35,-2.3),(2.9,-2.15),(2.5,-2.1),(2,-2.3),(1.5,-2.5),(.9,-2.6),(.3,-2.6),(-.2,-2.5),(-.75,-2.3),(-1,-1.85),(-1.15,-1.4),(-1.3,-.8),(-1.35,-.15),(-1.35,.05),(-1.55,.55),(-1.75,1.05),(-2.25,1.55),(-2.75,2.05),(-3.3,2.6),(-3.8,3.1),(-3.95,3.6),(-4,4.1),(-3.85,5),(-3.65,5.95),(-3.4,6.65),(-3.15,7.35),(-3.1,8.1),(-3.05,8.8),(-3,11)]
d_m6 = [(-5.1,1.85),(-4.4,2.5),(-3.35,2.4),(-2.35,1.45),(-2.05,.45),(-1.95,-.55),(-2.05,-2),(-1.75,-3),(-.7,-3.05),(.3,-3.1),(1.3,-2.95),(2.3,-2.7),(2.75,-2.95),(3.15,-3.4),(3.5,-4),(3.75,-4.65),(3.85,-5.35),(3.75,-6.05),(3.5,-6.8),(3.15,-7.5),(2.7,-8.1),(2.1,-8.7),(1.4,-9.25),(.7,-9.7),(-.95,-9.9),(-2.95,-9.6),(-3.9,-9.15),(-4.8,-8.6),(-5,-7.7),(-5,-6.85),(-4.6,-6.3),(-4.2,-5.85),(-4.3,-4.9),(-4.4,-4),(-4.8,-3.1),(-5.2,-2.2),(-5.35,-1.4),(-5.4,-.55),(-5.35,.4),(-5.3,1.45)]
d_m7 = [(-2.35,-4.45),(-2.05,-3.7),(-1.15,-3.5),(-.2,-3.4),(.7,-3.3),(2.1,-3.1),(2.7,-3.4),(3.15,-4),(3.25,-4.65),(3.15,-5.25),(2.8,-5.95),(2.3,-6.65),(1.75,-7.4),(1.1,-8.1),(.5,-8.5),(-.1,-8.8),(-1.75,-9),(-2.3,-8.7),(-2.75,-8.3),(-3,-7.7),(-3.05,-7.05),(-2.75,-6.45),(-2.45,-5.85),(-2.35,-5.05)]
d_m8 = [(.4,-5.95),(.5,-5.65),(.7,-5.35),(1.2,-5.05),(1.7,-4.75),(1.85,-5.15),(1.7,-5.75),(1.3,-6.25),(.6,-6.55),(.4,-6.35)]
d_fills = [(d_p0,d_colors[10]),(d_p1,d_colors[11]),(d_m1,d_colors[8]),(d_m2,d_colors[7]),(d_m3,d_colors[6]),(d_m4,d_colors[5]),(d_m5,d_colors[4]),(d_m6,d_colors[3]),(d_m7,d_colors[2]),(d_m8,d_colors[1])]
d_c060a = [(5.15,-8.6),(5.6,-7.75),(6.05,-6.9),(6.3,-6.15),(6.45,-5.45)]
d_c060b = [(6.75,-3.2),(6.78,-2.3),(6.7,-1.4),(6.5,-.55),(6.15,.25),(5.7,1.05),(5.15,1.85),(4.6,2.5),(3.95,3.1),(3.2,3.6),(2.4,4),(1.5,4.18),(.65,4.2),(-.25,4.22),(-1.15,4.2),(-1.55,4.35),(-1.8,4.7),(-1.87,5.1),(-1.8,5.55),(-1.6,6.2),(-1.35,6.75),(-.95,7.4),(-.45,8),(.3,8.4),(1.05,8.7),(1.95,8.9),(2.85,9),(3.65,9.02),(4.4,9)]
d_c120a = [(-.15,3),(.45,3.1),(1.05,3.15),(1.85,3.05),(2.6,2.8),(3.35,2.35),(3.95,1.85),(4.45,1.2),(4.8,.45),(5.1,-.35),(5.25,-1.2),(5.27,-2.1),(5.15,-3),(4.95,-4),(4.6,-5.05),(4.05,-6.1),(3.3,-7.1),(2.5,-7.95),(1.75,-8.7),(1.3,-9.3),(.95,-9.95)]
d_c120b = [(-1.7,2.45),(-2.25,2.42),(-2.7,2.5),(-3.1,2.85),(-3.35,3.3),(-3.5,4.2),(-3.55,5.15),(-3.45,5.85),(-3.2,6.55),(-2.9,7.2),(-2.45,7.8),(-1.85,8.4),(-1.15,9),(-.5,9.45),(.2,9.95)]
d_c180 = [(-3.1,9.6),(-3.55,8.7),(-4,7.8),(-4.35,6.9),(-4.65,5.95),(-4.82,5),(-4.85,4.1),(-4.75,3.3),(-4.45,2.5),(-4.05,1.85),(-3.55,1.35),(-3.05,1.15),(-2.55,1.15),(-2.05,1.25),(-1.6,1.45),(-1.05,1.75),(-.45,2.05),(.3,2.35),(1.05,2.5),(1.9,2.3),(2.6,1.85),(3.15,1.3),(3.6,.65),(4,-.25),(4.25,-1.2),(4.32,-2.1),(4.25,-3),(3.95,-4),(3.5,-5.05),(2.8,-6),(1.95,-6.9),(1,-7.65),(-.05,-8.3),(-.9,-8.7),(-1.8,-9),(-2.8,-9.2),(-3.8,-9.25)]
d_c240a = [(-9.55,2.8),(-9.3,3.2),(-8.95,3.6),(-8.4,4),(-7.75,4.3),(-7.3,4.25),(-6.85,3.9),(-6.4,3.15),(-6,2.3),(-5.55,1.65),(-5.1,1.05)]
d_c240b = [(-3.8,.15),(-3.25,0),(-2.7,-.05),(-2.15,.25),(-1.6,.65),(-.95,1.05),(-.25,1.35),(.5,1.6),(1.3,1.65),(2,1.5),(2.6,1.15),(3.1,.55),(3.4,-.15),(3.58,-1.05),(3.6,-2),(3.45,-2.85),(3.15,-3.6),(2.7,-4.45),(2.15,-5.25),(1.45,-6),(.65,-6.7),(-.4,-7.15),(-1.6,-7.5),(-2.7,-7.62),(-3.8,-7.6),(-4.95,-7.35),(-6,-6.9),(-6.95,-6.25),(-7.75,-5.45),(-8.4,-4.65),(-8.95,-3.85),(-9.35,-3),(-9.7,-2.2)]
d_c300 = [(-4.75,-.95),(-4.15,-1.1),(-3.55,-1.15),(-2.95,-1.05),(-2.35,-.8),(-1.75,-.3),(-1.15,.25),(-.5,.7),(.2,.95),(1,1.02),(1.75,.85),(2.3,.4),(2.7,-.15),(2.93,-.95),(2.95,-1.8),(2.75,-2.75),(2.4,-3.6),(1.8,-4.35),(1.05,-5.05),(.35,-5.6),(-.45,-6),(-1.35,-6.15),(-2.25,-6.15),(-3.25,-6),(-4.2,-5.65),(-5.05,-5.1),(-5.75,-4.45),(-6.3,-3.65),(-6.75,-2.8),(-6.92,-2.2),(-6.9,-1.7),(-6.8,-1.35),(-6.55,-1.05),(-6.15,-.9)]
d_c360 = [(-.7,-4.55),(-1.25,-4.55),(-1.8,-4.45),(-2.4,-4.2),(-2.9,-3.85),(-3.2,-3.45),(-3.25,-3.1),(-3.1,-2.8),(-2.8,-2.5),(-2.2,-2.15),(-1.55,-1.8),(-1.1,-1.35),(-.7,-.8),(-.3,-.2),(.2,.25),(.6,.35),(1.05,.25),(1.55,-.15),(1.95,-.6),(2.08,-1.1),(2.05,-1.6),(1.9,-2.2),(1.6,-2.8),(1.2,-3.35),(.65,-3.85)]
d_lines = [d_c060a,d_c060b,d_c120a,d_c120b,d_c180,d_c240a,d_c240b,d_c300,d_c360]
d_labels = [("1.20",-1,2.8,10),("2.40",-4.5,0.5,-30),("3.00",-5.45,-0.8,-3),("3.60",0,-4.3,15),("0.60",6.65,-4.55,85)]
d_dots = [(9,-4,4),(8,-5,5),(7,-7,7),(6,-7,7),(5,-8,8),(4,-9,0),(4,7,9),(3,-9,2),(3,9,9),(2,-9,2),(2,9,9),(1,-9,3),(0,-9,3),(0,6,9),(-1,-9,9),(-2,-9,9),(-3,-9,9),(-4,-8,8),(-5,-8,7),(-6,-7,7),(-7,-7,7),(-8,-5,5),(-9,-4,4)]

FONT = value("DejaVu Sans")
DARK = "#222222"

def panel(fills, lines, labels, base, dots, top, bottom, left):
    p = figure(frame_width=328, frame_height=328, x_range=Range1d(-10, 10), y_range=Range1d(-10, 10),
               output_backend="svg", toolbar_location=None, min_border_left=left, min_border_right=30,
               min_border_top=top, min_border_bottom=bottom, background_fill_color="white",
               outline_line_color="#888888", outline_line_width=1)
    p.grid.visible = False
    for ax in (p.xaxis[0], p.yaxis[0]):
        ax.ticker = FixedTicker(ticks=xy_ticks)
        ax.major_label_overrides = xy_labels
        ax.major_label_text_font = "DejaVu Sans"; ax.major_label_text_font_size = "20px"
        ax.major_label_text_color = DARK; ax.major_tick_out = 4; ax.major_tick_in = 0
        ax.minor_tick_line_color = None; ax.axis_line_color = "#888888"
        ax.major_tick_line_color = "#444444"; ax.major_label_standoff = 2
    p.circle(x=[0], y=[0], radius=10, fill_color=base, line_color=None)
    p.patches([[q[0] for q in f[0]] for f in fills], [[q[1] for q in f[0]] for f in fills],
              fill_color=[f[1] for f in fills], line_color=None)
    p.multi_line([[q[0] for q in l] for l in lines], [[q[1] for q in l] for l in lines],
                 line_color="#111111", line_width=1.4, line_join="round")
    p.annulus(x=[0], y=[0], inner_radius=10, outer_radius=15, fill_color="white", line_color=None)
    if dots:
        dx, dy = [], []
        for y, a, b in dots:
            for x in range(a, b + 1):
                dx.append(x); dy.append(y)
        p.scatter(dx, dy, size=3.6, fill_color="#1F8A2E", line_color=None)
    p.text([l[1] for l in labels], [l[2] for l in labels], text=[l[0] for l in labels],
           angle=[l[3] for l in labels], angle_units="deg", text_font=FONT, text_font_size="10px",
           text_color="#444444", text_align="center", text_baseline="middle")
    for xe, ye in ((-9.47, -6.85), (-7.05, -9.23)):
        p.add_layout(Arrow(end=NormalHead(size=7, fill_color="#111111", line_color="#111111"),
                           x_start=-9.47, y_start=-9.23, x_end=xe, y_end=ye, line_width=1.2, line_color="#111111"))
    p.text([-9.62, -6.72], [-6.35, -9.05], text=["N", "E"], text_font=FONT, text_font_size="10px",
           text_color="#333333", text_align="center", text_baseline="middle")
    return p

def colorbar(colors, tips, ticks, top, bottom, left, right):
    n = len(colors)
    tip = n * 15 / 298
    p = figure(frame_width=15, frame_height=328, x_range=Range1d(0, 1), y_range=Range1d(-tip, n + tip),
               output_backend="svg", toolbar_location=None, min_border_left=left, min_border_right=right,
               min_border_top=top, min_border_bottom=bottom, y_axis_location="right", outline_line_color=None)
    p.grid.visible = False
    p.xaxis.visible = False
    p.quad(left=0, right=1, bottom=list(range(n)), top=list(range(1, n + 1)), fill_color=colors, line_color=None)
    p.patches([[0, 1, 0.5], [0, 1, 0.5]], [[0, 0, -tip], [n, n, n + tip]], fill_color=tips, line_color=None)
    p.line([0, 0.5, 1, 1, 0.5, 0, 0], [0, -tip, 0, n, n + tip, n, 0], line_color="#555555", line_width=0.6)
    ax = p.yaxis[0]
    shown = [i for i, t in enumerate(ticks) if t]
    ax.ticker = FixedTicker(ticks=shown)
    ax.major_label_overrides = {i: ticks[i] for i in shown}
    ax.major_label_text_font = "DejaVu Sans"; ax.major_label_text_font_size = "20px"
    ax.major_label_text_color = DARK; ax.major_tick_out = 4; ax.major_tick_in = 0
    ax.minor_tick_line_color = None; ax.axis_line_color = None; ax.major_tick_line_color = "#444444"
    ax.major_label_standoff = 3
    ax.axis_label = cb_title; ax.axis_label_text_font = "DejaVu Sans"; ax.axis_label_text_font_size = "20px"
    ax.axis_label_text_font_style = "normal"; ax.axis_label_text_color = DARK; ax.axis_label_standoff = 10
    ax.axis_label_orientation = 1.5707963
    return p

pa = panel(a_fills, a_lines, a_labels, a_colors[1], None, 44, 48, 72)
ca = colorbar(a_colors, a_tip, a_ticks, 44, 48, 17, 98)
pb = panel(b_fills, b_lines, b_labels, b_colors[5], b_dots, 38, 54, 78)
cb = colorbar(b_colors, b_tip, b_ticks, 38, 54, 14, 100)
pc = panel(c_fills, c_lines, c_labels, c_colors[3], None, 50, 30, 72)
cc = colorbar(c_colors, c_tip, c_ticks, 50, 30, 17, 98)
pd_ = panel(d_fills, d_lines, d_labels, d_colors[9], d_dots, 50, 30, 78)
cd = colorbar(d_colors, d_tip, d_ticks, 50, 30, 14, 100)

# transparent sheet over the whole page, carrying the titles and panel tags
sheet = figure(width=1128, height=829, x_range=Range1d(0, 1128), y_range=Range1d(829, 0), min_border=0,
               output_backend="svg", toolbar_location=None, outline_line_color=None,
               background_fill_alpha=0, border_fill_alpha=0,
               styles={"position": "absolute", "left": "0px", "top": "0px", "pointer-events": "none"})
sheet.axis.visible = False
sheet.grid.visible = False
sheet.text([236, 802, 236, 802], [40, 34, 466, 466], text=[title_text] * 4, text_font=FONT,
           text_font_size="26px", text_color=DARK, text_align="center", text_baseline="alphabetic")
sheet.text([8, 566, 8, 566], [20, 20, 488, 490], text=panel_tags, text_font=value("Lato"),
           text_font_size="29px", text_color=DARK, text_align="left", text_baseline="middle")

page = column(row(row(pa, ca, spacing=0), row(pb, cb, spacing=0), spacing=0),
              row(row(pc, cc, spacing=0), row(pd_, cd, spacing=0), spacing=0), sheet, spacing=0)
open("out.html", "w").write(file_html(page, INLINE))
